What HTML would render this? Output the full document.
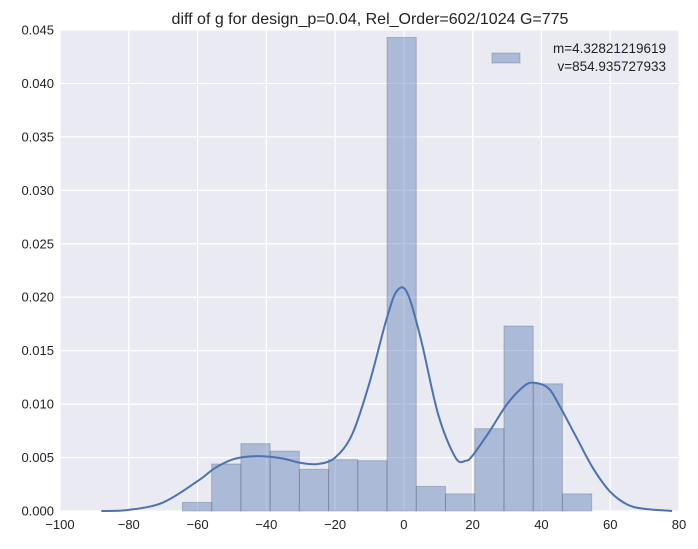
<!DOCTYPE html>
<html><head><meta charset="utf-8"><style>
body{margin:0;background:#fff;font-family:"Liberation Sans","DejaVu Sans",sans-serif}
</style></head><body>
<svg id="c" width="698" height="544" xmlns="http://www.w3.org/2000/svg" font-family="Liberation Sans, DejaVu Sans, sans-serif"></svg>
<script>
const xTicks=[-100,-80,-60,-40,-20,0,20,40,60,80];
const yTicks=[0,0.005,0.01,0.015,0.02,0.025,0.03,0.035,0.04,0.045];
const yTickLabels=["0.000","0.005","0.010","0.015","0.020","0.025","0.030","0.035","0.040","0.045"];
const binStart=-64.4;
const binWidth=8.5;
const binHeights=[0.0008,0.0044,0.0063,0.0056,0.0039,0.0048,0.0047,0.0443,0.0023,0.0016,0.0077,0.0173,0.0119,0.0016];
const kdeX=[-88,-80,-70,-60,-55,-50,-45,-40,-35,-30,-25,-20,-15,-10,-5,-2,1,5,10,15,18,20,25,30,35,38,42,45,50,55,60,65,70,78];
const kdeY=[0,0.0001,0.0008,0.0028,0.0040,0.0048,0.0051,0.0051,0.0049,0.0045,0.0044,0.0050,0.0072,0.0120,0.0180,0.0206,0.0204,0.0160,0.0090,0.0050,0.0047,0.0052,0.0075,0.0100,0.0117,0.0120,0.0115,0.0100,0.0070,0.0040,0.0018,0.0006,0.0002,0];
const L=60,R=679,T=30,B=511;
const sx=v=>L+(v+100)/180*(R-L);
const sy=v=>B-v/0.045*(B-T);
const svg=document.getElementById('c');
const NS="http://www.w3.org/2000/svg";
function mk(tag,attrs,parent){const e=document.createElementNS(NS,tag);for(const k in attrs)e.setAttribute(k,attrs[k]);(parent||svg).appendChild(e);return e;}
let e=mk('rect',{x:L,y:T,width:R-L,height:B-T,fill:'#EAEAF2'});


xTicks.forEach(t=>{
  let g=mk('line',{x1:sx(t),x2:sx(t),y1:T,y2:B,stroke:'#fff','stroke-width':1.2});
  
  
  let tx=mk('text',{x:sx(t),y:B+18,'text-anchor':'middle','font-size':13,fill:'#222'});
  tx.textContent=String(t).replace('-','\u2212');
  
  
});
yTicks.forEach((t,i)=>{
  let g=mk('line',{x1:L,x2:R,y1:sy(t),y2:sy(t),stroke:'#fff','stroke-width':1.2});
  
  
  let tx=mk('text',{x:L-6,y:sy(t)+4.5,'text-anchor':'end','font-size':13,fill:'#222'});
  tx.textContent=yTickLabels[i];
  
  
});
binHeights.forEach((h,i)=>{
  const x0=binStart+i*binWidth;
  let r=mk('rect',{x:sx(x0),y:sy(h),width:sx(x0+binWidth)-sx(x0),height:sy(0)-sy(h),fill:'rgba(76,114,176,0.4)',stroke:'rgba(90,100,120,0.35)','stroke-width':1});
  
  
});
const pts=kdeX.map((x,i)=>[sx(x),sy(kdeY[i])]);
let d='M'+pts[0][0].toFixed(1)+','+pts[0][1].toFixed(1);
for(let i=0;i<pts.length-1;i++){
  const p0=pts[Math.max(0,i-1)],p1=pts[i],p2=pts[i+1],p3=pts[Math.min(pts.length-1,i+2)];
  const c1=[p1[0]+(p2[0]-p0[0])/6,p1[1]+(p2[1]-p0[1])/6];
  const c2=[p2[0]-(p3[0]-p1[0])/6,p2[1]-(p3[1]-p1[1])/6];
  d+='C'+c1[0].toFixed(1)+','+c1[1].toFixed(1)+' '+c2[0].toFixed(1)+','+c2[1].toFixed(1)+' '+p2[0].toFixed(1)+','+p2[1].toFixed(1);
}
let p=mk('path',{d:d,fill:'none',stroke:'#4C72B0','stroke-width':2,'stroke-linejoin':'round'});


let title=mk('text',{x:370,y:24,'text-anchor':'middle','font-size':16,fill:'#222'});
title.textContent='diff of g for design_p=0.04, Rel_Order=602/1024 G=775';


let lp=mk('rect',{x:492,y:53,width:28,height:10,fill:'rgba(76,114,176,0.4)',stroke:'rgba(90,100,120,0.35)'});


let l1=mk('text',{x:666,y:53,'text-anchor':'end','font-size':13.5,fill:'#222'});
l1.textContent='m=4.32821219619';


let l2=mk('text',{x:666,y:71,'text-anchor':'end','font-size':13.5,fill:'#222'});
l2.textContent='v=854.935727933';


</script>
</body></html>
